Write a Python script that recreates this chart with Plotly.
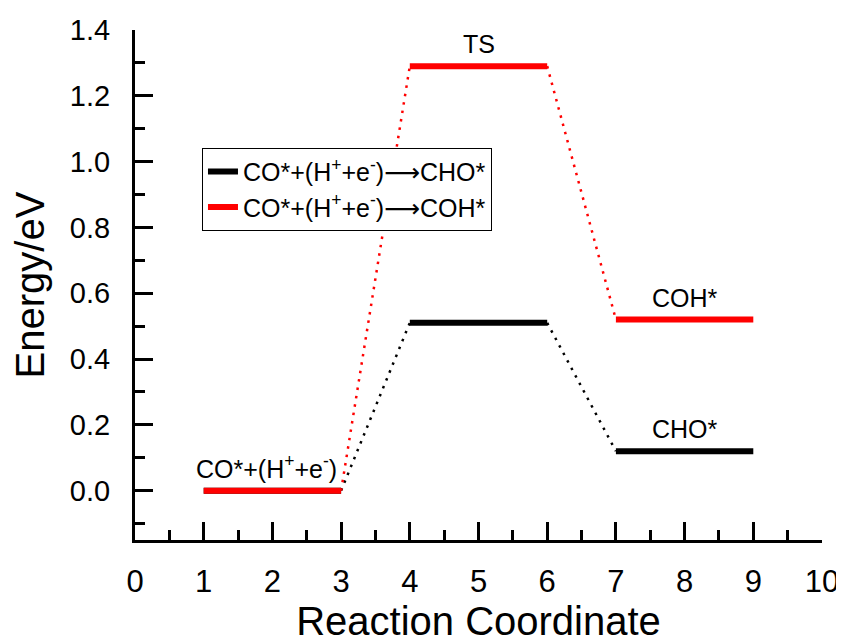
import plotly.graph_objects as go

# Data
state_start = [1, 4, 7]
state_end = [3, 6, 9]
cho_energy = [0.0, 0.51, 0.12]
coh_energy = [0.0, 1.29, 0.52]
series_names = ["CO*+(H<sup>+</sup>+e<sup>-</sup>)\u27f6CHO*",
                "CO*+(H<sup>+</sup>+e<sup>-</sup>)\u27f6COH*"]
series_colors = ["black", "red"]
level_labels = ["CO*+(H<sup>+</sup>+e<sup>-</sup>)", "TS", "COH*", "CHO*"]

FONT = "Liberation Sans, Arial, DejaVu Sans, sans-serif"

fig = go.Figure()

def levels(energies):
    xs, ys = [], []
    for s, e, v in zip(state_start, state_end, energies):
        xs += [s, e, None]
        ys += [v, v, None]
    return xs, ys

def connectors(energies):
    xs, ys = [], []
    for i in range(len(energies) - 1):
        xs += [state_end[i], state_start[i + 1], None]
        ys += [energies[i], energies[i + 1], None]
    return xs, ys

for name, col, en in zip(series_names, series_colors, [cho_energy, coh_energy]):
    cx, cy = connectors(en)
    fig.add_trace(go.Scatter(x=cx, y=cy, mode="lines", showlegend=False,
                             line=dict(color=col, width=2.5, dash="2.5px,6px"),
                             hoverinfo="skip"))

for name, col, en in zip(series_names, series_colors, [cho_energy, coh_energy]):
    lx, ly = levels(en)
    fig.add_trace(go.Scatter(x=lx, y=ly, mode="lines", name=name,
                             line=dict(color=col, width=6)))

# Level annotations
ann_pos = [(1.92, coh_energy[0]), (5, coh_energy[1]), (8.0, coh_energy[2]), (8.0, cho_energy[2])]
for txt, (ax, ay) in zip(level_labels, ann_pos):
    fig.add_annotation(x=ax, y=ay, text=txt, showarrow=False, yanchor="bottom",
                       yshift=6, font=dict(family=FONT, size=25, color="black"))

axis_common = dict(showline=True, linewidth=3, linecolor="black", ticks="inside",
                   tickwidth=3, tickcolor="black", ticklen=18, showgrid=False,
                   zeroline=False, mirror=False, automargin=False)

fig.update_xaxes(range=[0, 10], dtick=1, tick0=0,
                 minor=dict(ticks="inside", ticklen=10, tickwidth=3, tickcolor="black", dtick=0.5),
                 title_text="Reaction Coordinate", title_standoff=3,
                 tickfont=dict(family=FONT, size=31, color="black"),
                 title_font=dict(family=FONT, size=40, color="black"),
                 ticklabelstandoff=12, **axis_common)
fig.update_yaxes(range=[-0.15, 1.4], dtick=0.2, tick0=0, tickformat=".1f",
                 minor=dict(ticks="inside", ticklen=10, tickwidth=3, tickcolor="black", dtick=0.1),
                 title_text="Energy/eV", title_standoff=16,
                 tickfont=dict(family=FONT, size=29, color="black"),
                 title_font=dict(family=FONT, size=40, color="black"),
                 ticklabelstandoff=16, **axis_common)

fig.update_layout(
    width=844, height=641,
    margin=dict(l=127, r=30, t=22, b=109),
    plot_bgcolor="white", paper_bgcolor="white",
    font=dict(family=FONT, color="black"),
    legend=dict(x=0.0975, y=0.769, xanchor="left", yanchor="top",
                bordercolor="black", borderwidth=1, bgcolor="white",
                font=dict(family=FONT, size=25, color="black"),
                tracegroupgap=0),
)

fig.write_html("out.html")
